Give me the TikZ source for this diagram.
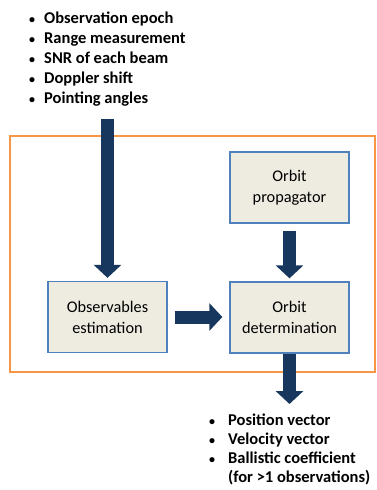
\documentclass[tikz,border=0pt]{standalone}
\usepackage{fontspec}
\setmainfont{Carlito}
\usepackage{xcolor}
\usetikzlibrary{arrows.meta,
	positioning,
	calc}
\definecolor{boxfill}{HTML}{EEECE1}
\definecolor{boxline}{HTML}{4F81BD}
\definecolor{navy}{HTML}{17375E}
\definecolor{frameorange}{HTML}{F79646}
\newcommand{\dotmark}{\makebox[8pt]{\fontsize{12}{12}\selectfont\textbullet}}

\begin{document}
\begin{tikzpicture}[x=1pt, y=-1pt,
	block/.style={draw=boxline, line width=1.3pt, fill=boxfill, minimum width=119pt,
		minimum height=71pt, align=center, font=\fontsize{16.3}{21}\selectfont},
	fat/.style={draw=navy, line width=13pt,
		-{Triangle[width=27pt, length=13pt]}, navy},
	bullets/.style={inner sep=0pt, anchor=north west, font=\bfseries}]
	\useasboundingbox (0, 0) rectangle (377, 490);
	% frame round the estimator
	\draw[frameorange, line width=2.5pt] (10, 136) rectangle (375, 372);
	% the three blocks
	\node[block] (prop) at (289.5, 187.5) {Orbit\\propagator};
	\node[block] (obs) at (107.5, 317) {Observables\\estimation};
	\node[block] (det) at (289.5, 317.5) {Orbit\\determination};
	% inputs and outputs
	\node[bullets] (inputs) at (28, 9) {\fontsize{16.5}{20}\selectfont
		\begin{tabular}{@{}l@{\hspace{8pt}}l@{}}
			\dotmark & Observation epoch\\
			\dotmark & Range measurement\\
			\dotmark & SNR of each beam\\
			\dotmark & Doppler shift\\
			\dotmark & Pointing angles
		\end{tabular}};
	\node[bullets] (outputs) at (208, 412) {\fontsize{16.5}{19}\selectfont
		\begin{tabular}{@{}l@{\hspace{12pt}}l@{}}
			\dotmark & Position vector\\
			\dotmark & Velocity vector\\
			\dotmark & Ballistic coefficient\\
			& (for >1 observations)
		\end{tabular}};
	\coordinate (instart) at (107.5, 119);
	\coordinate (outend) at (289.5, 404);
	% block arrows
	\draw[fat, shorten >=3pt] (instart) -- (obs.north);
	\draw[fat, shorten <=7pt, shorten >=3pt] (prop.south) -- (det.north);
	\draw[fat, shorten <=7pt, shorten >=7pt] (obs.east) -- (det.west |- obs.east);
	\draw[fat] (det.south) -- (outend);
\end{tikzpicture}
\end{document}
